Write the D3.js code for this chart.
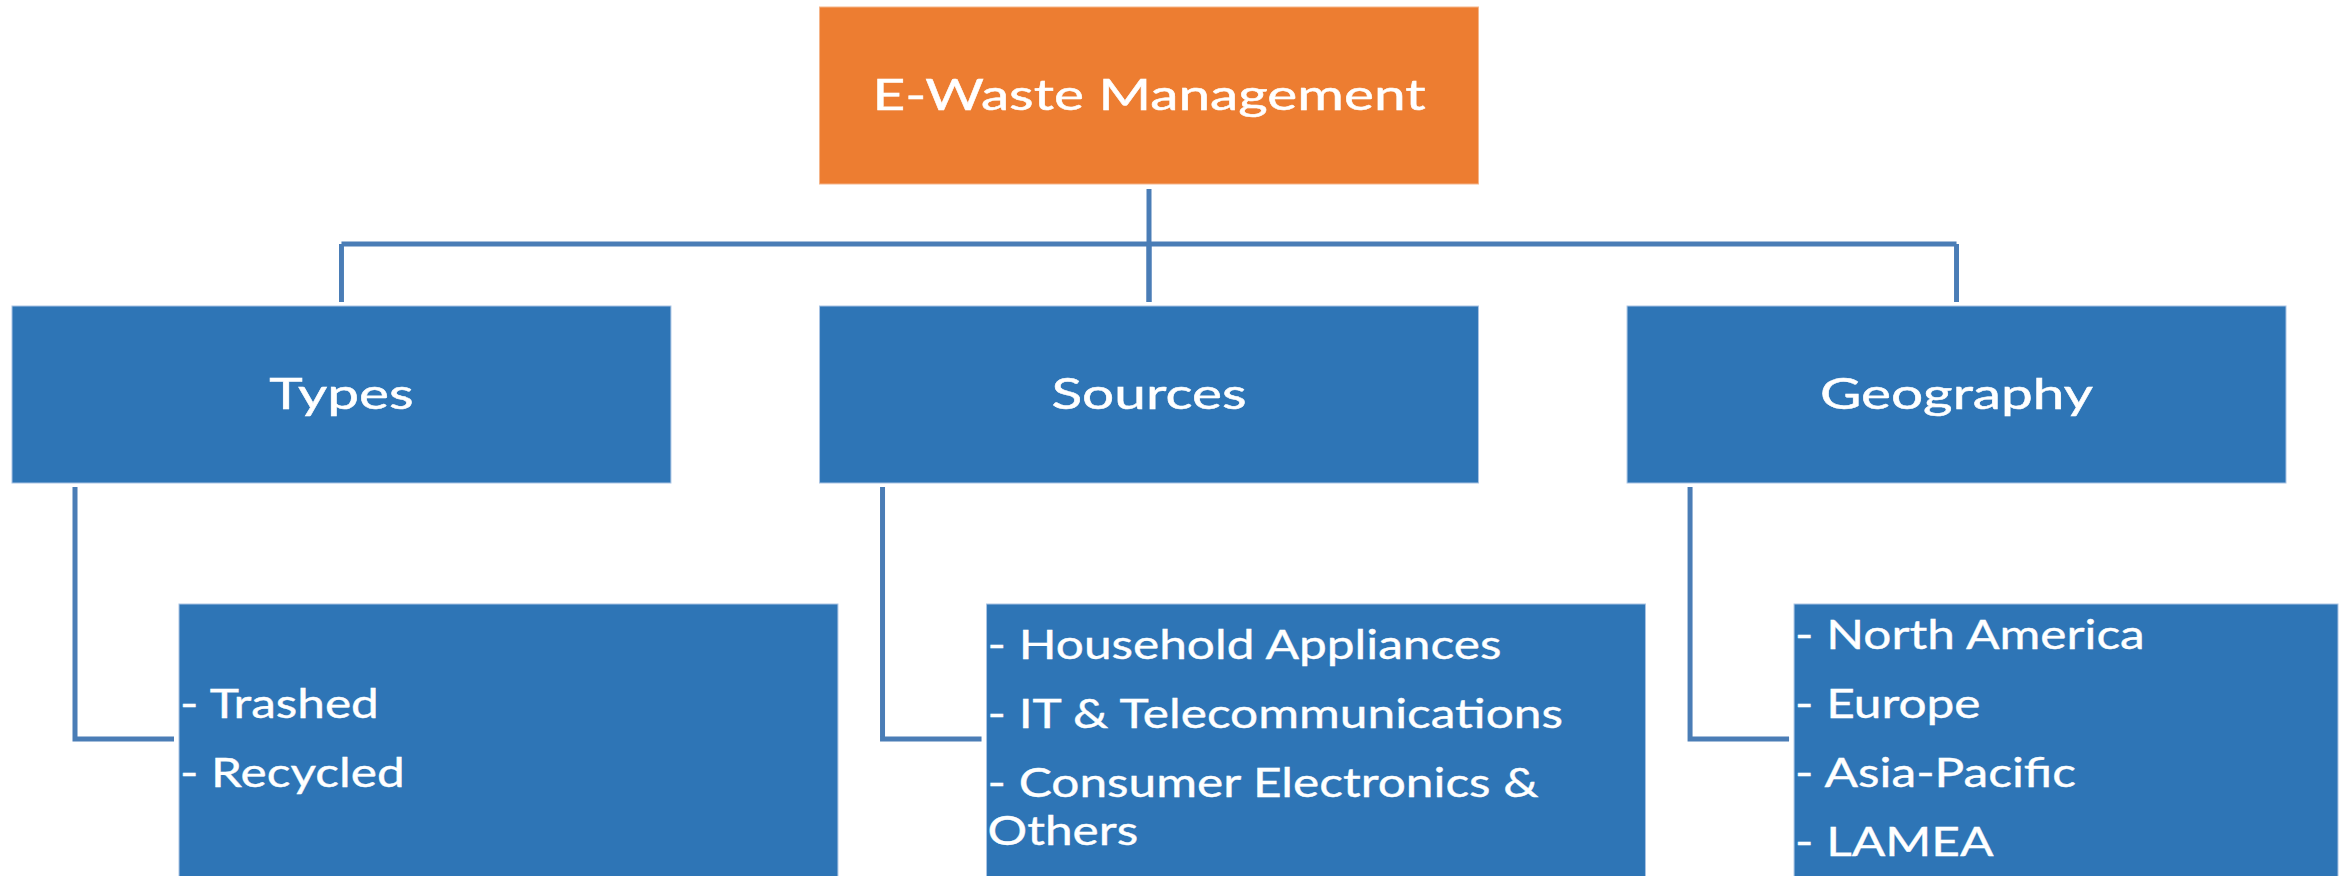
<!DOCTYPE html>
<html><head><meta charset="utf-8">
<script src="https://cdn.jsdelivr.net/npm/d3@7"></script>
<style>html,body{margin:0;padding:0;background:#fff;overflow:hidden}</style>
</head><body>
<script>
// ---- data ----
const rootLabel = "E-Waste Management";
const categories = ["Types", "Sources", "Geography"];
const typesItems = ["Trashed", "Recycled"];
const sourcesItems = ["Household Appliances", "IT & Telecommunications", "Consumer Electronics & Others"];
const geographyItems = ["North America", "Europe", "Asia-Pacific", "LAMEA"];
const itemsByCategory = [typesItems, sourcesItems, geographyItems];

// ---- style / layout ----
const W = 2348, H = 876;
const ORANGE = "#ED7D31", BLUE = "#2E75B6", LINE = "#4A7DB6", EDGE = "#A9C4E4";
const FONT = "Lato, 'Open Sans', sans-serif";
const FS_TOP = 43, SX_TOP = 1.32;
const FS_ITEM = 41, SX_ITEM = 1.21;
const L = {rootTop: 7, rootH: 177, l2Top: 306, l2H: 177, l3Top: 604, l3H: 320, busY: 244,
           l3Offset: 167, elbowOffset: 63, elbowY: 739, paraStep: 69, wrapStep: 48, blockMid: 752};

const svg = d3.select("body").append("svg").attr("width", W).attr("height", H)
  .style("display", "block");

const x = d3.scaleBand().domain(categories).range([12, 2286]).paddingInner(0.184);
const bw = x.bandwidth();
const cx = c => x(c) + bw / 2;

const lines = svg.append("g").attr("fill", "none").attr("stroke", LINE)
  .attr("stroke-width", 5).attr("stroke-linecap", "butt");

// root drop + bus + drops
lines.append("line")
  .attr("x1", cx("Sources")).attr("x2", cx("Sources"))
  .attr("y1", L.rootTop + L.rootH + 5).attr("y2", L.l2Top - 4);
lines.append("line")
  .attr("x1", cx(categories[0])).attr("x2", cx(categories[categories.length - 1]))
  .attr("y1", L.busY).attr("y2", L.busY);
lines.selectAll("line.drop").data(categories).join("line").attr("class", "drop")
  .attr("x1", d => cx(d)).attr("x2", d => cx(d))
  .attr("y1", L.busY).attr("y2", L.l2Top - 4);

// elbows
lines.selectAll("path.elbow").data(categories).join("path").attr("class", "elbow")
  .attr("d", d => {
    const ex = x(d) + L.elbowOffset;
    return `M${ex},${L.l2Top + L.l2H + 4}V${L.elbowY}H${x(d) + L.l3Offset - 5}`;
  });

// root box
svg.append("rect").attr("x", x("Sources")).attr("y", L.rootTop)
  .attr("width", bw).attr("height", L.rootH)
  .attr("fill", ORANGE).attr("stroke", "#F5B58A").attr("stroke-width", 1);

function centeredText(txt, px, py) {
  svg.append("g").attr("transform", `translate(${px},${py}) scale(${SX_TOP},1)`)
    .append("text").attr("text-anchor", "middle")
    .attr("font-family", FONT).attr("font-size", FS_TOP).attr("fill", "#fff")
    .attr("stroke", "#fff").attr("stroke-width", 0.5)
    .text(txt);
}
centeredText(rootLabel, cx("Sources"), L.rootTop + L.rootH / 2 + 14.5);

// level 2 boxes
svg.selectAll("rect.l2").data(categories).join("rect").attr("class", "l2")
  .attr("x", d => x(d)).attr("y", L.l2Top).attr("width", bw).attr("height", L.l2H)
  .attr("fill", BLUE).attr("stroke", EDGE).attr("stroke-width", 1);
categories.forEach(c => centeredText(c, cx(c), L.l2Top + L.l2H / 2 + 14.5));

// level 3 boxes
const l3Left = c => x(c) + L.l3Offset;
const l3Width = c => Math.min(bw, W - 10 - l3Left(c));
svg.selectAll("rect.l3").data(categories).join("rect").attr("class", "l3")
  .attr("x", d => l3Left(d)).attr("y", L.l3Top).attr("width", d => l3Width(d)).attr("height", L.l3H)
  .attr("fill", BLUE).attr("stroke", EDGE).attr("stroke-width", 1);

// measuring helper
const meas = svg.append("text").attr("font-family", FONT).attr("font-size", FS_ITEM)
  .attr("visibility", "hidden");
function textW(s) { meas.text(s); return meas.node().getComputedTextLength() * SX_ITEM; }

categories.forEach((c, i) => {
  const maxW = l3Width(c) - 4;
  const rows = [];
  itemsByCategory[i].forEach(item => {
    const words = ("- " + item).split(" ");
    let cur = words[0];
    let first = true;
    for (let w = 1; w < words.length; w++) {
      const test = cur + " " + words[w];
      if (textW(test) > maxW) {
        rows.push({text: cur, step: first ? (rows.length ? L.paraStep : 0) : L.wrapStep});
        first = false;
        cur = words[w];
      } else cur = test;
    }
    rows.push({text: cur, step: first ? (rows.length ? L.paraStep : 0) : L.wrapStep});
  });
  let acc = 0;
  rows.forEach(r => { acc += r.step; r.off = acc; });
  const start = L.blockMid - acc / 2;
  const g = svg.append("g");
  rows.forEach(r => {
    g.append("g").attr("transform", `translate(${l3Left(c) + 1},${start + r.off}) scale(${SX_ITEM},1)`)
      .append("text").attr("font-family", FONT).attr("font-size", FS_ITEM).attr("fill", "#fff")
      .attr("stroke", "#fff").attr("stroke-width", 0.4)
      .style("white-space", "pre")
      .text(r.text);
  });
});
meas.remove();
</script>
</body></html>
